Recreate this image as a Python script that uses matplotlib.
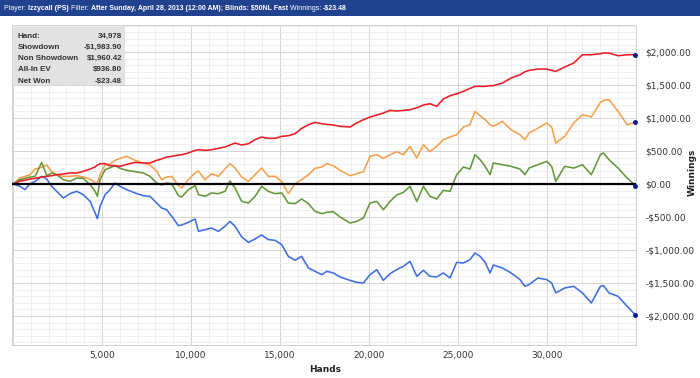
import matplotlib
matplotlib.use("Agg")
import matplotlib.pyplot as plt
from matplotlib.ticker import FuncFormatter, MultipleLocator
from matplotlib.patches import Rectangle

# hands played (x axis)
hands = [0, 390, 670, 950, 1240, 1610, 1890, 2170, 2450, 2830, 3200, 3580, 3950, 4330,
         4610, 4740, 4890, 5170, 5450, 5730, 6010, 6390, 6860, 7320, 7700, 8070, 8350, 8630,
         8920, 9290, 9480, 9850, 10230, 10420, 10790, 11160, 11540, 11910, 12190, 12480,
         12850, 13230, 13600, 13970, 14350, 14720, 15100, 15470, 15850, 16220, 16600, 16970,
         17350, 17630, 18000, 18380, 18940, 19310, 19690, 20060, 20440, 20810, 21190, 21560,
         21940, 22310, 22690, 23060, 23430, 23810, 24180, 24560, 24930, 25310, 25680,
         25960, 26250, 26530, 26810, 26990, 27500, 27990, 28490, 28770, 29000, 29500, 29990,
         30270, 30500, 31000, 31510, 32000, 32500, 33010, 33180, 33490, 34000, 34510, 34978]

# non showdown winnings (red)
non_showdown = [0, 45, 56, 76, 86, 106, 116, 126, 141, 152, 167, 167, 192, 227, 258, 288, 308,
                308, 278, 278, 268, 298, 328, 318, 318, 359, 379, 409,
                419, 439, 444, 470, 510, 520, 510, 520, 540, 561, 591, 621, 591, 611, 672, 712,
                692, 692, 722, 732, 763, 843, 899, 934, 914,
                904, 894, 874, 864, 924, 975, 1015, 1045, 1076, 1116, 1106, 1116, 1126, 1156,
                1197, 1217, 1177, 1288, 1338, 1369, 1404, 1449,
                1480, 1480, 1480, 1490, 1490, 1530, 1606, 1656, 1702, 1722, 1742, 1742, 1722,
                1707, 1773, 1833, 1959, 1959, 1975, 1985, 1985, 1944, 1959, 1960.42]

# all-in EV (orange)
allin_ev = [0, 91, 116, 141, 227, 253, 288, 187, 141, 116, 116, 126, 106, 76, 15, 25, 141, 293,
            298, 359, 389, 419, 359, 318, 288, 192, 66, 106,
            116, -25, -61, 66, 167, 197, 66, 157, 116, 227, 308, 242, 106, 40, 141, 242, 116,
            116, 40, -146, 5, 66, 141, 237, 258,
            308, 278, 207, 126, 157, 187, 419, 444, 389, 444, 490, 444, 571, 394, 596, 490,
            571, 672, 712, 747, 864, 899,
            1101, 1035, 975, 899, 874, 949, 823, 747, 672, 773, 848, 924, 864, 621, 722, 924,
            1050, 1015, 1237, 1268, 1278, 1101, 899, 936.80]

# net won (green)
net_won = [0, 66, 86, 106, 116, 328, 126, 167, 141, 66, 40, 91, 86, -10, -111, -187, 66, 217,
           247, 278, 237, 207, 187, 167, 116, 15, -15, 15,
           5, -177, -197, -86, -25, -162, -187, -136, -146, -111, 45, -61, -263, -288, -187,
           -35, -111, -146, -136, -288, -298, -227, -298, -414, -449,
           -429, -419, -500, -591, -566, -515, -288, -263, -389, -263, -167, -126, -35, -263,
           -35, -187, -227, -96, -111, 141, 258, 227,
           444, 369, 268, 141, 318, 293, 268, 227, 141, 242, 293, 343, 268, 40, 268, 242, 293,
           141, 444, 470, 369, 242, 91, -23.48]

# showdown winnings (blue)
showdown = [0, -35, -86, 5, 40, 116, 76, -35, -111, -212, -146, -111, -162, -263, -439, -525,
            -338, -162, -86, 15, -35, -86, -136, -177, -187, -288, -364, -389,
            -490, -631, -621, -581, -530, -717, -692, -667, -717, -641, -566, -641, -803, -884,
            -833, -773, -843, -853, -919, -1096, -1156, -1096, -1273, -1323, -1374,
            -1323, -1348, -1409, -1460, -1490, -1500, -1374, -1298, -1460, -1358, -1298, -1247,
            -1172, -1399, -1308, -1399, -1409, -1348, -1424, -1187, -1197, -1146,
            -1045, -1096, -1187, -1348, -1227, -1273, -1348, -1449, -1550, -1525, -1424, -1449,
            -1500, -1651, -1576, -1550, -1651, -1803, -1550, -1540, -1651, -1702, -1853, -1983.90]

stat_names = ["Hand:", "Showdown", "Non Showdown", "All-In EV", "Net Won"]
stat_values = ["34,978", "-$1,983.90", "$1,960.42", "$936.80", "-$23.48"]

title_parts = [("Player: ", "normal"), ("Izzycall (PS) ", "bold"), ("Filter: ", "normal"),
               ("After Sunday, April 28, 2013 (12:00 AM); Blinds: $50NL Fast ", "bold"),
               ("Winnings: ", "normal"), ("-$23.48", "bold")]

sans = ["Liberation Sans", "DejaVu Sans"]

fig = plt.figure(figsize=(7, 3.78), dpi=100)
fig.patch.set_facecolor("white")

# header bar
fig.patches.append(Rectangle((0, 1 - 16 / 378), 1, 16 / 378, transform=fig.transFigure,
                             facecolor="#21438f", edgecolor="none", zorder=0))
renderer = fig.canvas.get_renderer()
x = 4 / 700
for txt, w in title_parts:
    t = fig.text(x, 1 - 8.5 / 378, txt, color="white", fontsize=5, fontweight=w,
                 family=sans, va="center", ha="left")
    bb = t.get_window_extent(renderer)
    x += bb.width / 700

ax = fig.add_axes([12 / 700, 1 - 345 / 378, 624 / 700, 320 / 378])
ax.set_xlim(-60, 35010)
ax.set_ylim(-2440, 2410)

ax.plot(hands, showdown, color="#3f6ee2", lw=1.15, zorder=3)
ax.plot(hands, allin_ev, color="#f6a04c", lw=1.15, zorder=3)
ax.plot(hands, net_won, color="#64983a", lw=1.15, zorder=4)
ax.plot(hands, non_showdown, color="#ec1c24", lw=1.15, zorder=4)
ax.axhline(0, color="black", lw=1.6, zorder=5)
ends = [showdown[-1], allin_ev[-1], net_won[-1], non_showdown[-1]]
ax.plot([hands[-1]] * 4, ends, "o", color="#0a1a8c", ms=2.5, zorder=6, clip_on=False)

ax.xaxis.set_major_locator(MultipleLocator(5000))
ax.xaxis.set_minor_locator(MultipleLocator(1000))
ax.yaxis.set_major_locator(MultipleLocator(500))
ax.yaxis.set_minor_locator(MultipleLocator(100))
ax.grid(which="major", color="#d4d4d4", lw=0.7)
ax.grid(which="minor", color="#ebebeb", lw=0.6)
ax.set_axisbelow(True)

ax.xaxis.set_major_formatter(FuncFormatter(lambda v, p: "" if v <= 0 or v > 34000 else f"{int(v):,}"))
ax.yaxis.set_major_formatter(FuncFormatter(
    lambda v, p: f"-${abs(v):,.2f}" if v < 0 else f"${v:,.2f}"))
ax.yaxis.tick_right()
ax.tick_params(which="both", length=0, labelsize=6.5, colors="#333333")
ax.tick_params(axis="y", pad=7)
ax.tick_params(axis="x", pad=4)
for s in ax.spines.values():
    s.set_color("#d0d0d0")
    s.set_linewidth(0.7)

fig.text(325 / 700, 1 - 369 / 378, "Hands", fontsize=6.5, fontweight="bold",
         color="#222222", ha="center", va="center")
fig.text(692 / 700, 1 - 172 / 378, "Winnings", fontsize=6.5, fontweight="bold",
         color="#222222", ha="center", va="center", rotation=90)

# stats box
ax.add_patch(Rectangle((1 / 624, 1 - 60 / 320), 112 / 624, 58 / 320, transform=ax.transAxes,
                       facecolor="#e2e2e2", edgecolor="none", zorder=7))
for i, (n, v) in enumerate(zip(stat_names, stat_values)):
    yy = 1 - (11 + i * 11.3) / 320
    ax.text(6 / 624, yy, n, transform=ax.transAxes, fontsize=5.8, fontweight="bold",
            family=sans, color="#333333", va="center", ha="left", zorder=8)
    ax.text(110 / 624, yy, v, transform=ax.transAxes, fontsize=5.8, fontweight="bold",
            family=sans, color="#333333", va="center", ha="right", zorder=8)

fig.savefig("out.png", dpi=100)
